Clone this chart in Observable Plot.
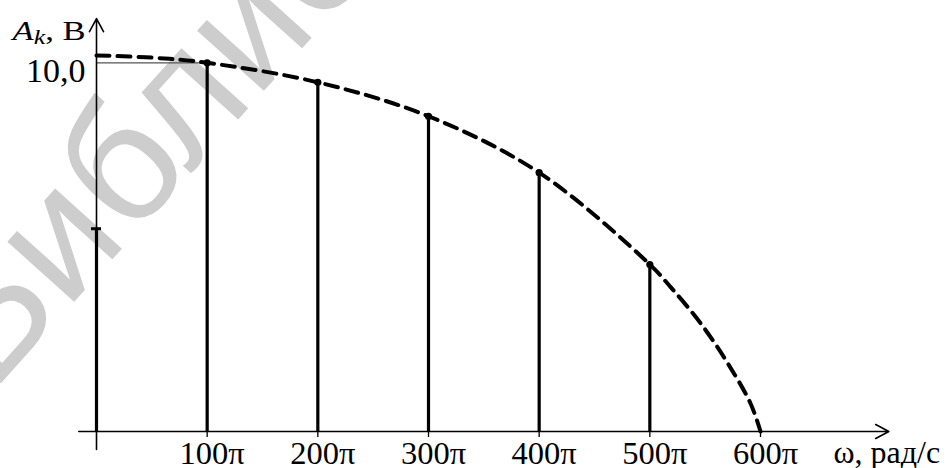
<!DOCTYPE html>
<html><head><meta charset="utf-8">
<script src="https://cdn.jsdelivr.net/npm/d3@7"></script>
<script src="https://cdn.jsdelivr.net/npm/@observablehq/plot@0.6"></script>
<style>html,body{margin:0;padding:0;background:#fff;overflow:hidden}</style>
</head><body><div id="chart"></div>
<script>
// ω in units of π (rad/s)
const harmonicOmega = [0, 100, 200, 300, 400, 500];
const harmonicAmp = [5.5, 10.0, 9.47, 8.55, 7.02, 4.53];
const envelopeOmega = [0, 50, 100, 200, 300, 400, 500, 519, 546, 570, 591, 600];
const envelopeAmp = [10.2, 10.14, 10.0, 9.47, 8.55, 7.02, 4.53, 3.91, 2.93, 1.87, 0.76, 0];
const xTickValues = [100, 200, 300, 400, 500, 600];
const xTickLabels = ["100π", "200π", "300π", "400π", "500π", "600π"];
const yTickValue = 10;
const yTickLabel = "10,0";
const xAxisExtent = [-16, 716];
const yAxisExtent = [-0.49, 11.2];
const watermark = "Библиотека";

const harmonics = harmonicOmega.map((w, i) => ({w, a: harmonicAmp[i]}));
const envelope = envelopeOmega.map((w, i) => ({w, a: envelopeAmp[i]}));
const ticks = xTickValues.map((w, i) => ({w, label: xTickLabels[i]}));
const serif = "'Liberation Serif', 'Times New Roman', serif";

const chart = Plot.plot({
  width: 949, height: 468,
  marginLeft: 96, marginRight: 189, marginTop: 62.3, marginBottom: 37,
  x: {domain: [0, 600], axis: null},
  y: {domain: [0, 10], axis: null},
  style: {background: "#fff", overflow: "visible"},
  marks: [
    Plot.text([watermark], {frameAnchor: "bottom-left", text: d => d, dx: -105, dy: -38, rotate: -48,
      textAnchor: "start", lineAnchor: "bottom", fontSize: 170, fill: "#cdcdcd",
      fontFamily: "'Liberation Sans', Arial, sans-serif"}),
    Plot.ruleY([yTickValue], {x1: 0, x2: 100, stroke: "#555", strokeWidth: 1.3}),
    Plot.arrow([0], {x1: xAxisExtent[0], x2: xAxisExtent[1], y1: 0, y2: 0, stroke: "#000", strokeWidth: 1.6, headLength: 14, headAngle: 56}),
    Plot.arrow([0], {x1: 0, x2: 0, y1: yAxisExtent[0], y2: yAxisExtent[1], stroke: "#000", strokeWidth: 1.6, headLength: 14, headAngle: 56}),
    Plot.ruleX(xTickValues, {x: d => d, y1: 0, y2: 0, insetTop: 6, stroke: "#000", strokeWidth: 1.3}),
    Plot.ruleX(harmonics, {x: "w", y1: 0, y2: "a", stroke: "#000", strokeWidth: 3.2}),
    Plot.ruleY(harmonics.slice(0, 1), {y: "a", x1: "w", x2: "w", insetLeft: -5, insetRight: -5, stroke: "#000", strokeWidth: 3}),
    Plot.line(envelope, {x: "w", y: "a", curve: "catmull-rom", stroke: "#000", strokeWidth: 4, strokeDasharray: "13,8"}),
    Plot.dot(harmonics.slice(1), {x: "w", y: "a", r: 3.6, fill: "#000"}),
    Plot.text(ticks, {x: "w", y: 0, text: "label", dx: 5, dy: 32, lineAnchor: "bottom", fontSize: 32.5, fontFamily: serif, fill: "#000"}),
    Plot.text([yTickLabel], {x: 0, y: yTickValue, text: d => d, textAnchor: "end", dx: -11, dy: 18.7, lineAnchor: "bottom", fontSize: 34, fontFamily: serif, fill: "#000"}),
    Plot.text(["ω, рад/с"], {x: 600, y: 0, text: d => d, textAnchor: "start", dx: 73, dy: 31, lineAnchor: "bottom", fontSize: 32, fontFamily: serif, fill: "#000"}),
    Plot.text(["A"], {x: 0, y: yTickValue, text: d => d, textAnchor: "end", dx: -11, dy: -22.8, lineAnchor: "bottom", fontSize: 27, fontFamily: serif, fill: "#000", className: "ylabel"})
  ]
});
document.getElementById("chart").appendChild(chart);

// rich y-axis label: italic A with italic subscript k, then ", В"
const yl = d3.select(chart).select(".ylabel text");
yl.text(null);
yl.attr("textLength", 73).attr("lengthAdjust", "spacingAndGlyphs");
yl.append("tspan").attr("font-style", "italic").text("A");
yl.append("tspan").attr("font-style", "italic").attr("font-size", "0.75em").attr("dy", "0.2em").text("k");
yl.append("tspan").attr("dy", "-0.15em").text(", В");
</script>
</body></html>
